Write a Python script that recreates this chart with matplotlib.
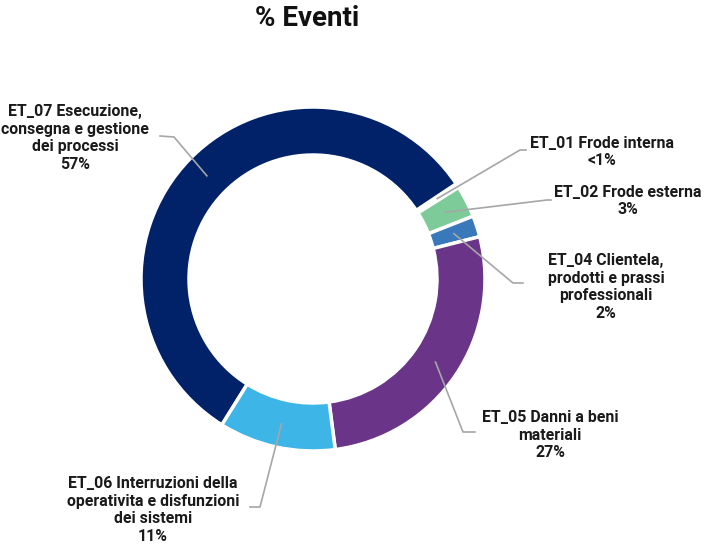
import numpy as np
import matplotlib
matplotlib.use("Agg")
import matplotlib.pyplot as plt

plt.rcParams['font.family'] = ['Roboto', 'DejaVu Sans']

# data (clockwise order, starting from ET_07)
labels = ["ET_07 Esecuzione,\nconsegna e gestione\ndei processi\n57%",
          "ET_01 Frode interna\n<1%",
          "ET_02 Frode esterna\n3%",
          "ET_04 Clientela,\nprodotti e prassi\nprofessionali\n2%",
          "ET_05 Danni a beni\nmateriali\n27%",
          "ET_06 Interruzioni della\noperativita e disfunzioni\ndei sistemi\n11%"]
values = [57, 0.4, 3, 2, 27, 11]
colors = ["#012169", "#012169", "#7ccb98", "#3a78bc", "#6a3489", "#3db5e6"]

W, H = 705, 546
cx, cy = 313, H - 279
R = 172

fig = plt.figure(figsize=(W / 100, H / 100), dpi=100)
ax = fig.add_axes([0, 0, 1, 1])

wedges, _ = ax.pie(values, colors=colors, startangle=238, counterclock=False,
                   radius=R, center=(cx, cy),
                   wedgeprops=dict(width=48, edgecolor='white', linewidth=2.5))
wedges[1].set_visible(False)

ax.set_xlim(0, W)
ax.set_ylim(0, H)
ax.set_aspect('equal')
ax.axis('off')

# pick a font size so the first lines have roughly the widths seen in the reference
renderer = fig.canvas.get_renderer()
targets = {"ET_07 Esecuzione,": 129, "ET_01 Frode interna": 145,
           "ET_02 Frode esterna": 149, "ET_06 Interruzioni della": 173}
ratios = []
for s, tw in targets.items():
    t = ax.text(0, 0, s, fontsize=10, fontweight='bold')
    ratios.append(tw / t.get_window_extent(renderer).width)
    t.remove()
fs = 10 * np.mean(ratios)

# label layout: elbow point, end point, text centre (pixel coords, y down)
layout = [
    ((174, 137), (160, 136), (75, 138)),
    ((520, 150), (526, 150), (602, 152)),
    ((547, 200), (551, 200), (628, 201)),
    ((513, 283), (523, 283), (606, 287)),
    ((463, 432), (475, 432), (550, 435)),
    ((260, 507), (250, 507), (153, 510)),
]

for w, lab, (elb, end, tpos) in zip(wedges, labels, layout):
    mid = np.deg2rad((w.theta1 + w.theta2) / 2)
    sx = cx + 148 * np.cos(mid)
    sy = cy + 148 * np.sin(mid)
    ax.plot([sx, elb[0], end[0]], [sy, H - elb[1], H - end[1]],
            color='#a6a6a6', lw=1.2, zorder=3)
    ax.text(tpos[0], H - tpos[1], lab, ha='center', va='center', fontsize=fs,
            fontweight='bold', color='#1a1a1a', linespacing=1.2)

ax.text(307, H - 18, "% Eventi", ha='center', va='center', fontsize=20,
        fontweight='bold', color='#111111')

fig.savefig("out.png", dpi=100)
